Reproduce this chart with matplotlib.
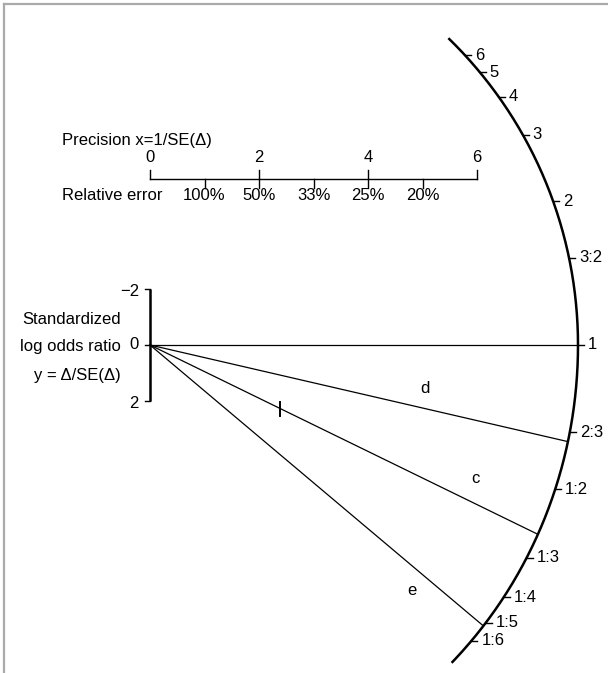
import numpy as np
import matplotlib
matplotlib.use("Agg")
import matplotlib.pyplot as plt

plt.rcParams['font.family'] = ['Liberation Sans', 'DejaVu Sans']

# Odds-ratio scale printed on the arc
arc_values = [6, 5, 4, 3, 2, 1.5, 1, 2/3, 1/2, 1/3, 1/4, 1/5, 1/6]
arc_labels = ["6", "5", "4", "3", "2", "3:2", "1", "2:3", "1:2", "1:3", "1:4", "1:5", "1:6"]

# Study summary lines: log odds ratio estimates and their labels
study_names = ["d", "c", "e"]
study_log_or = [-0.45, -0.95, -1.64]

# Precision axis
precision_ticks = [0, 2, 4, 6]
relerr_ticks = [1, 2, 3, 4, 5]
relerr_labels = ["100%", "50%", "33%", "25%", "20%"]

# Standardized axis
std_ticks = [-2, 0, 2]
std_tick_labels = ["\u22122", "0", "2"]

# Marked point on study c
marked_precision = 2.39

# ---- layout (pixels) ----
W, H = 608, 673
DPI = 100
ox_px, oy_px = 150, 345          # origin position from left / top
sx, sy = 54.5, 28.0              # pixels per data unit in x and y
ARC_A, ARC_B = 428, 448          # arc radius; vertical reach of its lower half

fig = plt.figure(figsize=(W / DPI, H / DPI), dpi=DPI)
ax = fig.add_axes([0, 0, 1, 1])
ax.set_xlim(-ox_px / sx, (W - ox_px) / sx)
ax.set_ylim((H - oy_px) / sy, -oy_px / sy)   # standardized values grow downward
ax.axis("off")

FS = 12


def arc_point(phi):
    phi = np.asarray(phi, dtype=float)
    b = np.where(phi > 0, ARC_B, ARC_A)
    r = 1.0 / np.sqrt((np.cos(phi) / ARC_A) ** 2 + (np.sin(phi) / b) ** 2)
    return r * np.cos(phi) / sx, r * np.sin(phi) / sy


def phi_of_slope(s):
    return np.arctan2(sy * s, sx)


# Arc
phi = np.linspace(np.deg2rad(-45.8), np.deg2rad(46.5), 400)
arc_x, arc_y = arc_point(phi)
ax.plot(arc_x, arc_y, color="black", lw=1.8, solid_capstyle="butt")

# Arc ticks and labels (slope of the ray = -log odds ratio)
for v, lab in zip(arc_values, arc_labels):
    s = -np.log(v)
    px, py = arc_point(phi_of_slope(s))
    ax.plot([px, px + 6 / sx], [py, py], color="black", lw=1.0)
    ax.text(px + 10 / sx, py, lab, ha="left", va="center", fontsize=FS)

# Reference ray for odds ratio 1
x1, y1 = arc_point(phi_of_slope(0.0))
ax.plot([0, x1], [0, y1], color="black", lw=0.9)

# Study rays, with their letters placed along the ray
label_place = {"d": (5.05, -20), "c": (5.98, -26), "e": (4.81, 25)}
for name, lor in zip(study_names, study_log_or):
    s = -lor
    ex, ey = arc_point(phi_of_slope(s))
    ax.plot([0, ex], [0, ey], color="black", lw=0.9)
    lx, off_px = label_place[name]
    ax.text(lx, s * lx + off_px / sy, name, ha="center", va="center", fontsize=FS)

# Marked point on study c
c_slope = -study_log_or[study_names.index("c")]
ax.plot([marked_precision, marked_precision],
        [c_slope * marked_precision - 0.25, c_slope * marked_precision + 0.25],
        color="black", lw=1.4)

# Standardized axis
ax.plot([0, 0], [std_ticks[0], std_ticks[-1]], color="black", lw=1.8, solid_capstyle="butt")
for t, lab in zip(std_ticks, std_tick_labels):
    ax.plot([0, -5 / sx], [t, t], color="black", lw=1.0)
    ax.text(-11 / sx, t + (3 / sy if t != 0 else 0), lab, ha="right", va="center", fontsize=FS)

ylab_x = -29 / sx
ax.text(ylab_x, -25 / sy, "Standardized", ha="right", va="center", fontsize=FS)
ax.text(ylab_x, 2 / sy, "log odds ratio", ha="right", va="center", fontsize=FS)
ax.text(ylab_x, 31 / sy, "y = \u0394/SE(\u0394)", ha="right", va="center", fontsize=FS)

# Precision axis
pa_y = (179 - oy_px) / sy
ax.plot([precision_ticks[0], precision_ticks[-1]], [pa_y, pa_y], color="black", lw=1.0)
for t in precision_ticks:
    ax.plot([t, t], [pa_y, pa_y - 9 / sy], color="black", lw=1.0)
    ax.text(t, pa_y - 21 / sy, str(t), ha="center", va="center", fontsize=FS)
for t, lab in zip(relerr_ticks, relerr_labels):
    ax.plot([t, t], [pa_y, pa_y + 9 / sy], color="black", lw=1.0)
    ax.text(t, pa_y + 17 / sy, lab, ha="center", va="center", fontsize=FS)
ax.text(-88 / sx, pa_y - 38 / sy, "Precision x=1/SE(\u0394)", ha="left", va="center", fontsize=FS)
ax.text(-88 / sx, pa_y + 17 / sy, "Relative error", ha="left", va="center", fontsize=FS)

# Frame lines along top and left edges
fig.add_artist(plt.Line2D([4 / W, 1], [1 - 4 / H, 1 - 4 / H], color="#aaaaaa", lw=1.6,
                          transform=fig.transFigure))
fig.add_artist(plt.Line2D([4 / W, 4 / W], [0, 1 - 4 / H], color="#aaaaaa", lw=1.6,
                          transform=fig.transFigure))

fig.savefig("out.png", dpi=DPI)
